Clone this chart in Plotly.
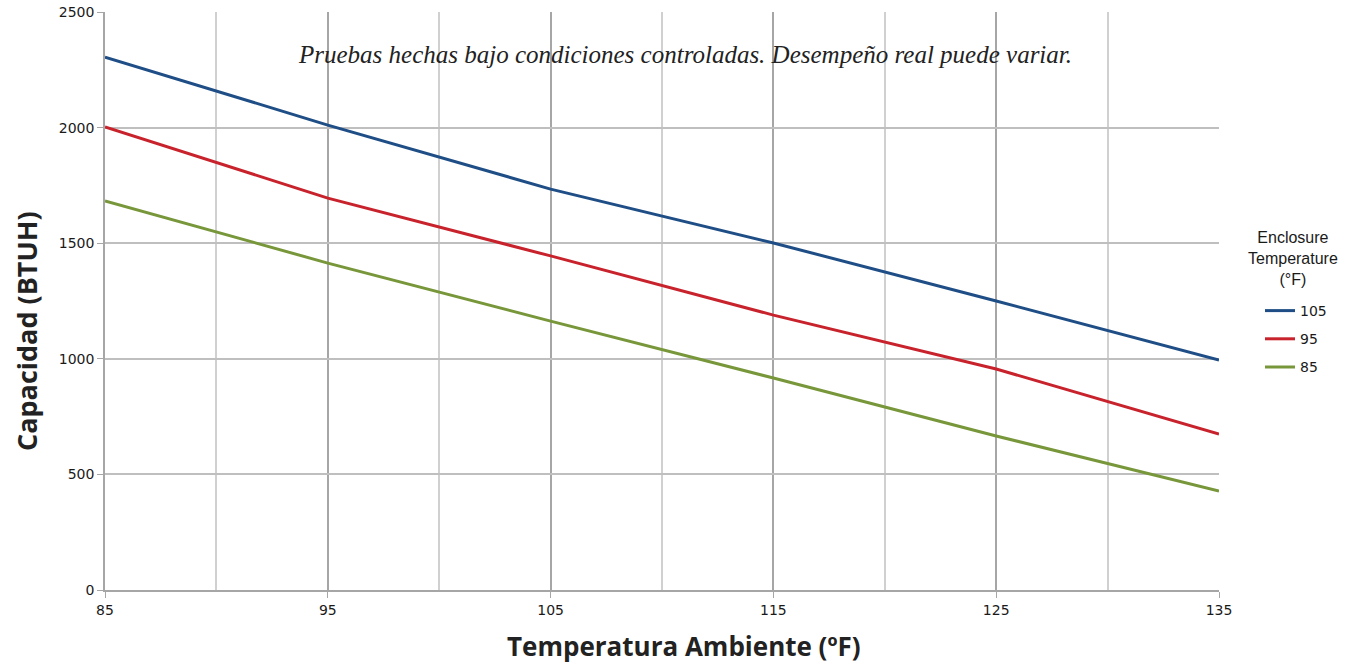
import plotly.graph_objects as go

temps = [85, 95, 105, 115, 125, 135]
cap_105 = [2305, 2011, 1734, 1501, 1250, 995]
cap_95 = [2003, 1695, 1445, 1189, 956, 675]
cap_85 = [1683, 1414, 1163, 917, 666, 428]
series_names = ["105", "95", "85"]
colors = ["#1F4E86", "#C8232C", "#77973A"]
x_ticks = [85, 95, 105, 115, 125, 135]
x_minor = [90, 100, 110, 120, 130]
y_ticks = [0, 500, 1000, 1500, 2000, 2500]

# lay out in window pixels (body margin removed by post_script)
W, H = 1356, 669
L_PX, R_PX, T_PX, B_PX = 105, 1219, 12, 590  # plot area in window pixels
l, t = L_PX, T_PX
r, b = W - R_PX, H - B_PX
pw, ph = R_PX - L_PX, B_PX - T_PX


def px(xw):
    return (xw - L_PX) / pw


def py(yw):
    return (B_PX - yw) / ph


fig = go.Figure()
for name, vals, col in zip(series_names, [cap_105, cap_95, cap_85], colors):
    fig.add_trace(go.Scatter(x=temps, y=vals, mode="lines", name=name,
                             legendgroup=name,
                             line=dict(color=col, width=3)))

tickfont = dict(family="DejaVu Sans", size=14, color="#1a1a1a")
fig.update_layout(
    width=W, height=H,
    margin=dict(l=l, r=r, t=t, b=b, autoexpand=False),
    paper_bgcolor="white", plot_bgcolor="white",
    showlegend=True,
    legend=dict(x=px(1260), xanchor="left", y=py(295), yanchor="top",
                font=dict(family="DejaVu Sans", size=14, color="#1a1a1a"),
                tracegroupgap=7, bgcolor="rgba(0,0,0,0)"),
    xaxis=dict(range=[85, 135], tickvals=x_ticks, automargin=False,
               ticklabeloverflow="allow",
               showgrid=True, gridcolor="#A6A6A6", gridwidth=1.5,
               minor=dict(tickvals=x_minor, showgrid=True,
                          gridcolor="#D0D0D0", gridwidth=1.5),
               ticks="outside", ticklen=6, tickcolor="#A6A6A6",
               showline=True, linecolor="#A6A6A6", linewidth=1.5,
               tickfont=tickfont, zeroline=False),
    yaxis=dict(range=[0, 2500], tickvals=y_ticks, automargin=False,
               ticklabeloverflow="allow",
               showgrid=True, gridcolor="#BFBFBF", gridwidth=1.5,
               ticks="outside", ticklen=6, tickcolor="#A6A6A6",
               showline=True, linecolor="#A6A6A6", linewidth=1.5,
               tickfont=tickfont, zeroline=False),
    shapes=[dict(type="rect", xref="paper", yref="paper", layer="between",
                 x0=px(282), x1=px(1093), y0=py(92), y1=py(30),
                 fillcolor="white", line=dict(width=0))],
    annotations=[
        dict(text="Pruebas hechas bajo condiciones controladas. Desempeño real puede variar.",
             x=px(685), y=py(54), xref="paper", yref="paper", showarrow=False,
             xanchor="center", yanchor="middle",
             font=dict(family="Liberation Serif", size=25, color="#222222", style="italic")),
        dict(text="Temperatura Ambiente (ºF)", x=px(684), y=py(646), xref="paper", yref="paper",
             showarrow=False, xanchor="center", yanchor="middle",
             font=dict(family="Open Sans", size=26, color="#222222", weight="bold")),
        dict(text="Capacidad (BTUH)", x=px(26), y=py(331), xref="paper", yref="paper",
             showarrow=False, textangle=-90, xanchor="center", yanchor="middle",
             font=dict(family="Open Sans", size=27, color="#222222", weight="bold")),
        dict(text="Enclosure<br>Temperature<br>(°F)", x=px(1293), y=py(258), xref="paper",
             yref="paper", showarrow=False, xanchor="center", yanchor="middle",
             font=dict(family="Liberation Sans", size=16, color="#1a1a1a")),
    ],
)

fig.write_html("out.html", config={"displayModeBar": False},
               post_script="document.body.style.margin='0';")
